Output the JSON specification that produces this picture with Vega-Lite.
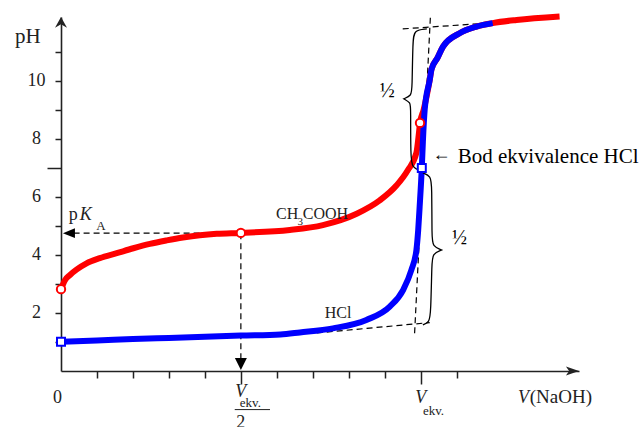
{
  "$schema": "https://vega.github.io/schema/vega-lite/v6.json",
  "width": 518,
  "height": 354,
  "autosize": {"type": "none"},
  "padding": {"left": 61, "top": 17, "right": 64, "bottom": 56},
  "background": "white",
  "config": {"view": {"stroke": null}, "axis": {"grid": false}},
  "datasets": {
    "red": [
      {"v": 0, "ph": 2.82}, {"v": 0.11, "ph": 3.13}, {"v": 0.25, "ph": 3.31}, {"v": 0.44, "ph": 3.5},
      {"v": 0.71, "ph": 3.71}, {"v": 1.08, "ph": 3.89}, {"v": 1.55, "ph": 4.06}, {"v": 2.01, "ph": 4.23},
      {"v": 2.47, "ph": 4.38}, {"v": 2.94, "ph": 4.5}, {"v": 3.39, "ph": 4.6}, {"v": 3.86, "ph": 4.68},
      {"v": 4.33, "ph": 4.73}, {"v": 5.0, "ph": 4.76}, {"v": 6.36, "ph": 4.86}, {"v": 7.28, "ph": 5.03},
      {"v": 8.22, "ph": 5.42}, {"v": 8.86, "ph": 5.88}, {"v": 9.33, "ph": 6.4}, {"v": 9.64, "ph": 6.92},
      {"v": 9.88, "ph": 7.52}, {"v": 9.95, "ph": 8.2}, {"v": 9.98, "ph": 8.55}, {"v": 10.08, "ph": 9.0},
      {"v": 10.25, "ph": 10.03}, {"v": 10.3, "ph": 10.4}, {"v": 10.47, "ph": 10.8}, {"v": 10.62, "ph": 11.18},
      {"v": 11.08, "ph": 11.64}, {"v": 11.55, "ph": 11.87}, {"v": 12.0, "ph": 11.99}, {"v": 12.66, "ph": 12.1},
      {"v": 13.86, "ph": 12.22}
    ],
    "blue": [
      {"v": 0, "ph": 1.01}, {"v": 1, "ph": 1.05}, {"v": 2, "ph": 1.1}, {"v": 3, "ph": 1.14},
      {"v": 4, "ph": 1.18}, {"v": 5, "ph": 1.22}, {"v": 6.1, "ph": 1.26}, {"v": 6.64, "ph": 1.33},
      {"v": 7.56, "ph": 1.47}, {"v": 8.49, "ph": 1.76}, {"v": 9.14, "ph": 2.22}, {"v": 9.51, "ph": 2.79},
      {"v": 9.74, "ph": 3.48}, {"v": 9.88, "ph": 4.17}, {"v": 9.93, "ph": 4.86}, {"v": 9.97, "ph": 5.66},
      {"v": 10.03, "ph": 7.0}, {"v": 10.06, "ph": 7.9}, {"v": 10.11, "ph": 9.0}, {"v": 10.25, "ph": 10.03},
      {"v": 10.3, "ph": 10.4}, {"v": 10.47, "ph": 10.8}, {"v": 10.62, "ph": 11.18}, {"v": 11.08, "ph": 11.64},
      {"v": 11.55, "ph": 11.87}, {"v": 12.0, "ph": 11.99}
    ],
    "dash": [
      {"id": "pka", "o": 1, "v": 0.35, "ph": 4.75}, {"id": "pka", "o": 2, "v": 5, "ph": 4.75},
      {"id": "half", "o": 1, "v": 5, "ph": 4.75}, {"id": "half", "o": 2, "v": 5, "ph": 0.45},
      {"id": "top", "o": 1, "v": 9.5, "ph": 11.79}, {"id": "top", "o": 2, "v": 12.0, "ph": 12.0},
      {"id": "steep", "o": 1, "v": 9.83, "ph": 1.3}, {"id": "steep", "o": 2, "v": 10.27, "ph": 12.24},
      {"id": "low", "o": 1, "v": 7.11, "ph": 1.31}, {"id": "low", "o": 2, "v": 10.25, "ph": 1.67}
    ],
    "brace": [
      {"id": "up", "o": 1, "v": 10.17, "ph": 11.79}, {"id": "up", "o": 2, "v": 9.82, "ph": 11.75},
      {"id": "up", "o": 3, "v": 9.78, "ph": 11.4}, {"id": "up", "o": 4, "v": 9.76, "ph": 9.7},
      {"id": "up", "o": 5, "v": 9.74, "ph": 9.5}, {"id": "up", "o": 6, "v": 9.53, "ph": 9.38},
      {"id": "up", "o": 7, "v": 9.53, "ph": 9.38}, {"id": "up", "o": 8, "v": 9.53, "ph": 9.38},
      {"id": "up", "o": 9, "v": 9.72, "ph": 9.25}, {"id": "up", "o": 10, "v": 9.72, "ph": 9.05},
      {"id": "up", "o": 11, "v": 9.72, "ph": 7.4}, {"id": "up", "o": 12, "v": 9.76, "ph": 7.0},
      {"id": "up", "o": 13, "v": 10.0, "ph": 6.9},
      {"id": "lo", "o": 1, "v": 10.06, "ph": 6.83}, {"id": "lo", "o": 2, "v": 10.28, "ph": 6.72},
      {"id": "lo", "o": 3, "v": 10.31, "ph": 6.4}, {"id": "lo", "o": 4, "v": 10.31, "ph": 4.6},
      {"id": "lo", "o": 5, "v": 10.33, "ph": 4.3}, {"id": "lo", "o": 6, "v": 10.58, "ph": 4.17},
      {"id": "lo", "o": 7, "v": 10.58, "ph": 4.17}, {"id": "lo", "o": 8, "v": 10.58, "ph": 4.17},
      {"id": "lo", "o": 9, "v": 10.33, "ph": 4.04}, {"id": "lo", "o": 10, "v": 10.31, "ph": 3.75},
      {"id": "lo", "o": 11, "v": 10.28, "ph": 2.0}, {"id": "lo", "o": 12, "v": 10.24, "ph": 1.68},
      {"id": "lo", "o": 13, "v": 10.06, "ph": 1.59}
    ]
  },
  "encoding": {
    "x": {
      "field": "v", "type": "quantitative",
      "scale": {"domain": [0, 14.4], "nice": false, "zero": false},
      "axis": {
        "title": null, "values": [1, 2, 3, 4, 5, 6, 7, 8, 9, 10, 11], "labels": false,
        "domainColor": "#222", "domainWidth": 1.6, "tickColor": "#222", "tickWidth": 1.5,
        "tickSize": {"condition": {"test": "datum.value == 5 || datum.value == 10", "value": 13}, "value": 7}
      }
    },
    "y": {
      "field": "ph", "type": "quantitative",
      "scale": {"domain": [0, 12.2], "nice": false, "zero": false},
      "axis": {
        "title": null, "values": [1, 2, 3, 4, 5, 6, 7, 8, 9, 10, 11],
        "labelExpr": "datum.value % 2 == 0 ? datum.label : ''",
        "labelFont": "Liberation Serif", "labelFontSize": 18, "labelColor": "#222",
        "labelAlign": "center", "labelPadding": 19,
        "domainColor": "#222", "domainWidth": 1.6, "tickColor": "#222", "tickWidth": 1.5,
        "tickSize": {"condition": {"test": "datum.value == 7", "value": 14}, "value": 6}
      }
    }
  },
  "layer": [
    {
      "data": {"name": "dash"},
      "mark": {"type": "line", "color": "black", "strokeWidth": 1.2, "strokeDash": [6, 4]},
      "encoding": {"detail": {"field": "id"}, "order": {"field": "o"}}
    },
    {
      "data": {"name": "red"},
      "mark": {"type": "line", "color": "#ff0000", "strokeWidth": 6, "interpolate": "monotone"}
    },
    {
      "data": {"name": "blue"},
      "mark": {"type": "line", "color": "#0000ff", "strokeWidth": 6, "interpolate": "monotone"}
    },
    {
      "data": {"name": "brace"},
      "mark": {"type": "line", "color": "black", "strokeWidth": 1.3, "interpolate": "basis"},
      "encoding": {"detail": {"field": "id"}, "order": {"field": "o"}}
    },
    {
      "data": {"values": [{"v": 0, "ph": 2.82}, {"v": 5, "ph": 4.76}, {"v": 9.98, "ph": 8.55}]},
      "mark": {"type": "point", "shape": "circle", "filled": true, "fill": "white", "stroke": "#ff0000", "strokeWidth": 2, "size": 70, "opacity": 1}
    },
    {
      "data": {"values": [{"v": 0, "ph": 1.01}, {"v": 10.03, "ph": 7.0}]},
      "mark": {"type": "point", "shape": "square", "filled": true, "fill": "white", "stroke": "#0000ff", "strokeWidth": 2, "size": 64, "opacity": 1}
    },
    {
      "data": {"values": [{"v": 0, "ph": 12.2}]},
      "mark": {"type": "point", "shape": "M-1,1.8 L0,0 L1,1.8 L0,1.2 Z", "filled": true, "color": "#222", "size": 144, "opacity": 1, "strokeWidth": 0}
    },
    {
      "data": {"values": [{"v": 14.4, "ph": 0}]},
      "mark": {"type": "point", "shape": "M-2.9,-1 L0,0 L-2.9,1 L-2.2,0 Z", "filled": true, "color": "#222", "size": 81, "opacity": 1, "strokeWidth": 0}
    },
    {
      "data": {"values": [{"v": 0.22, "ph": 4.75}]},
      "mark": {"type": "point", "shape": "M-1,0 L1,-0.8 L1,0.8 Z", "filled": true, "color": "black", "size": 144, "opacity": 1, "strokeWidth": 0}
    },
    {
      "data": {"values": [{"v": 5, "ph": 0.24}]},
      "mark": {"type": "point", "shape": "M-1,-1 L1,-1 L0,1 Z", "filled": true, "color": "black", "size": 144, "opacity": 1, "strokeWidth": 0}
    },
    {
      "data": {"values": [{"v": 4.83, "v2": 5.81, "ph": -1.33}]},
      "mark": {"type": "rule", "color": "#222", "strokeWidth": 1},
      "encoding": {"x2": {"field": "v2"}}
    },
    {
      "data": {"values": [{"t": "pH", "v": -0.92, "ph": 11.31}]},
      "mark": {"type": "text", "font": "Liberation Serif", "fontSize": 21, "align": "center", "baseline": "alphabetic", "color": "#222"},
      "encoding": {"text": {"field": "t"}}
    },
    {
      "data": {"values": [{"t": "0", "v": -0.1, "ph": -1.1}, {"t": "2", "v": 5.0, "ph": -1.97}, {"t": "p", "v": 0.34, "ph": 5.2}]},
      "mark": {"type": "text", "font": "Liberation Serif", "fontSize": 18, "align": "center", "baseline": "alphabetic", "color": "#222"},
      "encoding": {"text": {"field": "t"}}
    },
    {
      "data": {"values": [{"t": "V", "v": 5.0, "ph": -0.9}, {"t": "V", "v": 10.0, "ph": -1.1}, {"t": "V", "v": 12.86, "ph": -1.1}, {"t": "K", "v": 0.69, "ph": 5.2}]},
      "mark": {"type": "text", "font": "Liberation Serif", "fontSize": 18, "fontStyle": "italic", "align": "center", "baseline": "alphabetic", "color": "#222"},
      "encoding": {"text": {"field": "t"}}
    },
    {
      "data": {"values": [{"t": "ekv.", "v": 4.97, "ph": -1.23}, {"t": "ekv.", "v": 10.06, "ph": -1.52}, {"t": "A", "v": 0.98, "ph": 4.86}]},
      "mark": {"type": "text", "font": "Liberation Serif", "fontSize": 13, "align": "left", "baseline": "alphabetic", "color": "#222"},
      "encoding": {"text": {"field": "t"}}
    },
    {
      "data": {"values": [{"t": "(NaOH)", "v": 13.03, "ph": -1.1}]},
      "mark": {"type": "text", "font": "Liberation Serif", "fontSize": 19, "align": "left", "baseline": "alphabetic", "color": "#222"},
      "encoding": {"text": {"field": "t"}}
    },
    {
      "data": {"values": [{"t": "CH", "v": 5.98, "ph": 5.24}, {"t": "COOH", "v": 6.72, "ph": 5.24}, {"t": "HCl", "v": 7.33, "ph": 1.82}]},
      "mark": {"type": "text", "font": "Liberation Serif", "fontSize": 16, "align": "left", "baseline": "alphabetic", "color": "#222"},
      "encoding": {"text": {"field": "t"}}
    },
    {
      "data": {"values": [{"t": "3", "v": 6.65, "ph": 5.03}]},
      "mark": {"type": "text", "font": "Liberation Serif", "fontSize": 11, "align": "center", "baseline": "alphabetic", "color": "#222"},
      "encoding": {"text": {"field": "t"}}
    },
    {
      "data": {"values": [{"t": "½", "v": 9.07, "ph": 9.64}, {"t": "½", "v": 11.08, "ph": 4.6}]},
      "mark": {"type": "text", "font": "Liberation Serif", "fontSize": 20, "align": "center", "baseline": "middle", "color": "black"},
      "encoding": {"text": {"field": "t"}}
    },
    {
      "data": {"values": [{"t": "Bod ekvivalence HCl", "v": 11.03, "ph": 7.17}]},
      "mark": {"type": "text", "font": "Liberation Serif", "fontSize": 21, "align": "left", "baseline": "alphabetic", "color": "black"},
      "encoding": {"text": {"field": "t"}}
    },
    {
      "data": {"values": [{"t": "←", "v": 10.58, "ph": 7.45}]},
      "mark": {"type": "text", "font": "Liberation Serif", "fontSize": 18, "align": "center", "baseline": "middle", "color": "black"},
      "encoding": {"text": {"field": "t"}}
    }
  ]
}
